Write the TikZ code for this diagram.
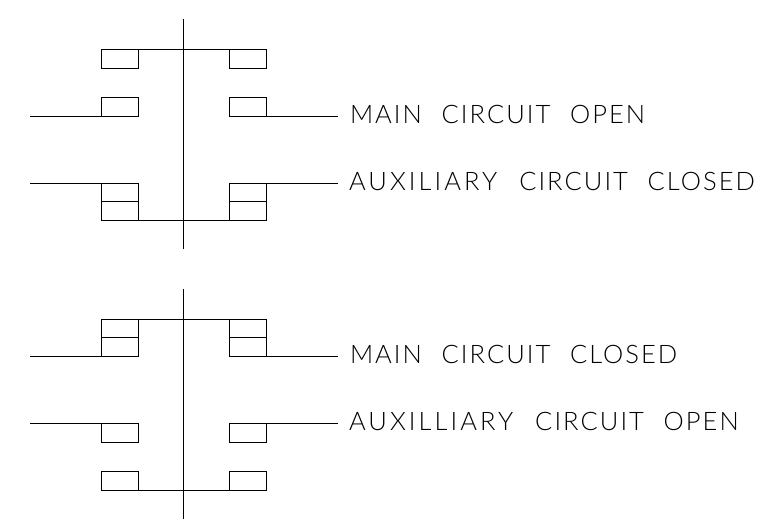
\documentclass[tikz,border=0pt]{standalone}
\usepackage{fontspec}
\newfontfamily\labelfont[LetterSpace=8,WordSpace=2.2]{Lato Light}
\newfontfamily\widerfont[LetterSpace=12,WordSpace=2.2]{Lato Light}
\tikzset{
  wire/.style={draw=black,line width=1pt},
  contact/.style={draw=black,line width=1pt,rectangle,inner sep=0pt,outer sep=0pt,minimum width=37pt,minimum height=19pt},
  halfcontact/.style={contact,minimum height=18.5pt},
  caption/.style={anchor=base west,inner sep=0pt,outer sep=0pt,font=\labelfont\fontsize{25.5}{25.5}\selectfont,text=black}
}
\begin{document}
\begin{tikzpicture}[x=1pt,y=-1pt]
\useasboundingbox (0,0) rectangle (781,523);
% upper diagram
\coordinate (a1) at (183.5,19); \coordinate (a2) at (183.5,249);
\draw[wire] (a1) -- (a2);
\node[contact] (aTL) at (119.5,58.5) {};
\node[contact] (aTR) at (247.5,58.5) {};
\node[contact] (aML) at (119.5,106.5) {};
\node[contact] (aMR) at (247.5,106.5) {};
\node[halfcontact] (aLL) at (119.5,192.25) {};
\node[halfcontact] (aLR) at (247.5,192.25) {};
\node[halfcontact] (aBL) at (119.5,210.75) {};
\node[halfcontact] (aBR) at (247.5,210.75) {};
\draw[wire] (aTL.north east) -- (aTR.north west);
\draw[wire] (aBL.south east) -- (aBR.south west);
\coordinate (a3) at (30,116); \coordinate (a4) at (338,116);
\coordinate (a5) at (30,183); \coordinate (a6) at (338,183);
\draw[wire] (a3) -- (aML.south west);
\draw[wire] (aMR.south east) -- (a4);
\draw[wire] (a5) -- (aLL.north west);
\draw[wire] (aLR.north east) -- (a6);
\node[caption] (t1) at (350,123.5) {MAIN CIRCUIT OPEN};
\node[caption] (t2) at (349,190) {{\widerfont AUXILIARY }CIRCUIT CLOSED};
% lower diagram
\coordinate (b1) at (183.5,289); \coordinate (b2) at (183.5,519);
\draw[wire] (b1) -- (b2);
\node[halfcontact] (bTL) at (119.5,328.25) {};
\node[halfcontact] (bTR) at (247.5,328.25) {};
\node[halfcontact] (bUL) at (119.5,346.75) {};
\node[halfcontact] (bUR) at (247.5,346.75) {};
\node[contact] (bML) at (119.5,432.5) {};
\node[contact] (bMR) at (247.5,432.5) {};
\node[contact] (bBL) at (119.5,480.5) {};
\node[contact] (bBR) at (247.5,480.5) {};
\draw[wire] (bTL.north east) -- (bTR.north west);
\draw[wire] (bBL.south east) -- (bBR.south west);
\coordinate (b3) at (30,356); \coordinate (b4) at (338,356);
\coordinate (b5) at (30,423); \coordinate (b6) at (338,423);
\draw[wire] (b3) -- (bUL.south west);
\draw[wire] (bUR.south east) -- (b4);
\draw[wire] (b5) -- (bML.north west);
\draw[wire] (bMR.north east) -- (b6);
\node[caption] (t3) at (350,363.5) {MAIN CIRCUIT CLOSED};
\node[caption] (t4) at (349,430) {{\widerfont AUXILLIARY }CIRCUIT OPEN};
\end{tikzpicture}
\end{document}
